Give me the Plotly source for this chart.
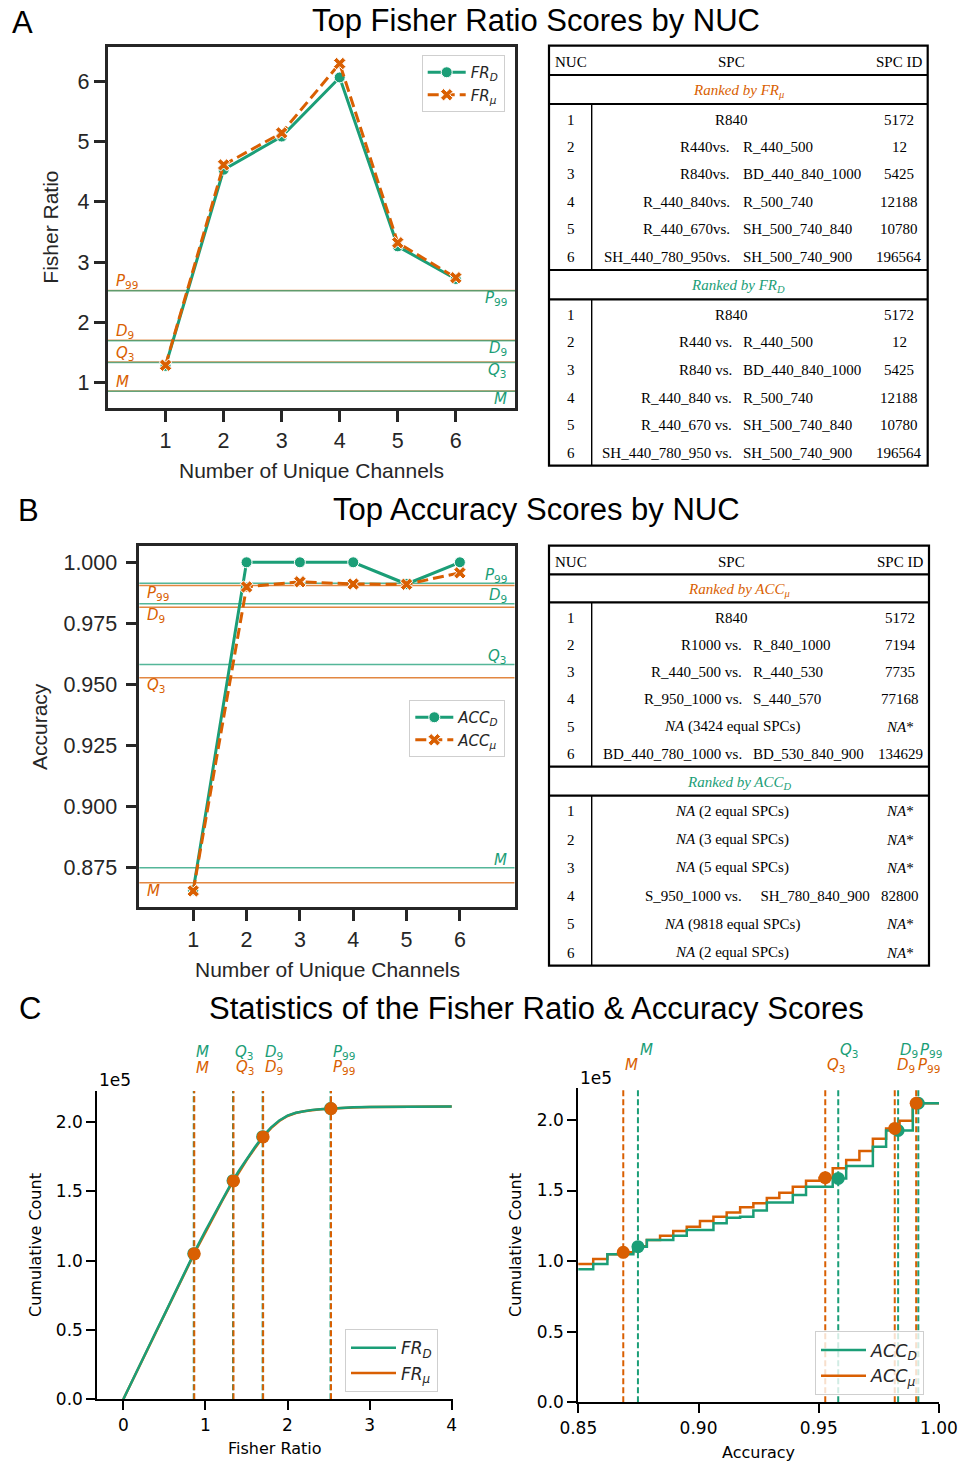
import numpy as np
import plotly.graph_objects as go

W, H = 972, 1461
GREEN, ORANGE = '#1b9e77', '#d95f02'
DARK = '#262626'
SANS = 'Liberation Sans, Arial, sans-serif'
MATH = 'DejaVu Sans'
SERIF = 'Liberation Serif, Times New Roman, serif'

# ---------------- data ----------------
nuc = [1, 2, 3, 4, 5, 6]
fr_d_top = [1.28, 4.53, 5.08, 6.06, 3.26, 2.72]
fr_mu_top = [1.29, 4.61, 5.14, 6.29, 3.32, 2.74]
acc_d_top = [0.8656, 1.000, 1.000, 1.000, 0.9911, 1.000]
acc_mu_top = [0.8653, 0.9899, 0.9920, 0.9911, 0.9910, 0.9957]

stat_labels = ['<i>M</i>', '<i>Q</i><sub>3</sub>', '<i>D</i><sub>9</sub>', '<i>P</i><sub>99</sub>']
fr_d_stats = [0.858, 1.336, 1.697, 2.524]
fr_mu_stats = [0.864, 1.342, 1.703, 2.530]
acc_d_stats = [0.8748, 0.9581, 0.9830, 0.9914]
acc_mu_stats = [0.8687, 0.9527, 0.9816, 0.9905]

# cumulative count of Fisher ratio scores
fr_grid = [0.0, 0.1, 0.2, 0.3, 0.4, 0.5, 0.6, 0.7, 0.8, 0.9, 1.0, 1.1, 1.2, 1.3, 1.4, 1.5,
           1.6, 1.7, 1.8, 1.9, 2.0, 2.1, 2.2, 2.3, 2.4, 2.5, 2.6, 2.8, 3.0, 3.3, 3.6, 4.0]
fr_d_cum = [0, 12500, 25000, 37000, 49000, 61000, 73500, 86000, 98000, 110000, 121500,
            132500, 143500, 154000, 164000, 173000, 181500, 189500, 196000, 201000, 204500,
            206500, 207800, 208600, 209100, 209500, 209900, 210400, 210700, 210900, 211000, 211100]
fr_mu_cum = [0, 12300, 24600, 36500, 48500, 60300, 72800, 85200, 97200, 109200, 120700,
             131700, 142700, 153200, 163200, 172300, 180800, 188900, 195500, 200600, 204200,
             206300, 207600, 208500, 209000, 209400, 209800, 210300, 210700, 210900, 211000, 211100]

# cumulative count of accuracy scores (step edges and levels)
acc_edges = [0.8450, 0.8562, 0.8621, 0.8673, 0.8729, 0.8785, 0.8840, 0.8895, 0.8951, 0.9006,
             0.9062, 0.9117, 0.9173, 0.9228, 0.9284, 0.9336, 0.9392, 0.9447, 0.9503, 0.9558,
             0.9614, 0.9669, 0.9725, 0.9780, 0.9836, 0.9891, 1.0]
acc_d_cum = [94200, 97900, 104800, 104800, 110200, 114900, 114900, 118000, 122000, 122000,
             126800, 130700, 131400, 135800, 141600, 141600, 146800, 152700, 152700, 158600,
             167300, 167300, 181000, 192500, 192500, 211800]
acc_mu_cum = [97900, 101500, 104800, 106200, 110500, 114900, 118000, 121300, 124400, 128400,
              131400, 134500, 138100, 140900, 144700, 148400, 152700, 156900, 159100, 165700,
              171600, 178000, 186700, 194000, 199400, 211800]

# tables
fr_spc_left = ['R840', 'R440', 'R840', 'R_440_840', 'R_440_670', 'SH_440_780_950']
fr_spc_right = [None, 'R_440_500', 'BD_440_840_1000', 'R_500_740', 'SH_500_740_840', 'SH_500_740_900']
fr_ids = ['5172', '12', '5425', '12188', '10780', '196564']

acc_mu_spc_left = ['R840', 'R1000', 'R_440_500', 'R_950_1000', '<i>NA</i> (3424 equal SPCs)', 'BD_440_780_1000']
acc_mu_spc_right = [None, 'R_840_1000', 'R_440_530', 'S_440_570', None, 'BD_530_840_900']
acc_mu_ids = ['5172', '7194', '7735', '77168', '<i>NA</i>*', '134629']
acc_d_spc_left = ['<i>NA</i> (2 equal SPCs)', '<i>NA</i> (3 equal SPCs)', '<i>NA</i> (5 equal SPCs)',
                  'S_950_1000', '<i>NA</i> (9818 equal SPCs)', '<i>NA</i> (2 equal SPCs)']
acc_d_spc_right = [None, None, None, '\u2002SH_780_840_900', None, None]
acc_d_ids = ['<i>NA</i>*', '<i>NA</i>*', '<i>NA</i>*', '82800', '<i>NA</i>*', '<i>NA</i>*']


def X(p):
    return p / W


def Y(p):
    return 1 - p / H


fig = go.Figure()
ann = []
shapes = []


def text(x, y, s, size, family=SANS, color=DARK, xanchor='center', yanchor='middle',
         angle=0, xref='paper', yref='paper', yshift=0):
    ann.append(dict(x=x, y=y, xref=xref, yref=yref, text=s, showarrow=False,
                    font=dict(family=family, size=size, color=color),
                    xanchor=xanchor, yanchor=yanchor, textangle=angle, yshift=yshift))


# ---------------- panel A / B line plots ----------------
def top_series(y_d, y_mu, name, xa, ya, leg):
    fig.add_trace(go.Scatter(
        x=nuc, y=y_d, mode='lines+markers', name='<i>%s</i><sub><i>D</i></sub>' % name,
        line=dict(color=GREEN, width=3),
        marker=dict(symbol='circle', size=11, color=GREEN, line=dict(color='white', width=1)),
        xaxis=xa, yaxis=ya, legend=leg))
    fig.add_trace(go.Scatter(
        x=nuc, y=y_mu, mode='lines+markers', name='<i>%s</i><sub><i>μ</i></sub>' % name,
        line=dict(color=ORANGE, width=3, dash='11px,5px'),
        marker=dict(symbol='x', size=11, color=ORANGE, line=dict(color='white', width=1)),
        xaxis=xa, yaxis=ya, legend=leg))


top_series(fr_d_top, fr_mu_top, 'FR', 'x', 'y', 'legend')
top_series(acc_d_top, acc_mu_top, 'ACC', 'x2', 'y2', 'legend2')

# reference statistic lines
for i, lab in enumerate(stat_labels):
    for val, col in ((fr_mu_stats[i], ORANGE), (fr_d_stats[i], GREEN)):
        shapes.append(dict(type='line', xref='x domain', yref='y', x0=0, x1=1, y0=val, y1=val,
                           line=dict(color=col, width=1.5), opacity=0.65, layer='below'))
    text(X(114), fr_mu_stats[i], lab, 15, MATH, ORANGE, 'left', yref='y', yshift=8.5)
    text(X(509), fr_d_stats[i], lab, 15, MATH, GREEN, 'right', yref='y', yshift=-8)

    for val, col in ((acc_d_stats[i], GREEN), (acc_mu_stats[i], ORANGE)):
        shapes.append(dict(type='line', xref='x2 domain', yref='y2', x0=0, x1=1, y0=val, y1=val,
                           line=dict(color=col, width=1.5), opacity=0.75, layer='below'))
    text(X(145), acc_mu_stats[i], lab, 15, MATH, ORANGE, 'left', yref='y2', yshift=-8)
    text(X(509), acc_d_stats[i], lab, 15, MATH, GREEN, 'right', yref='y2', yshift=8)

# ---------------- panel C ----------------
fig.add_trace(go.Scatter(x=fr_grid, y=fr_mu_cum, mode='lines', name='<i>FR</i><sub><i>μ</i></sub>',
                         line=dict(color=ORANGE, width=2.5), xaxis='x3', yaxis='y3',
                         legend='legend3', legendrank=2))
fig.add_trace(go.Scatter(x=fr_grid, y=fr_d_cum, mode='lines', name='<i>FR</i><sub><i>D</i></sub>',
                         line=dict(color=GREEN, width=2.5), xaxis='x3', yaxis='y3',
                         legend='legend3', legendrank=1))
fig.add_trace(go.Scatter(x=fr_d_stats, y=np.interp(fr_d_stats, fr_grid, fr_d_cum), mode='markers',
                         marker=dict(color=GREEN, size=13), showlegend=False, xaxis='x3', yaxis='y3'))
fig.add_trace(go.Scatter(x=fr_mu_stats, y=np.interp(fr_mu_stats, fr_grid, fr_mu_cum), mode='markers',
                         marker=dict(color=ORANGE, size=13), showlegend=False, xaxis='x3', yaxis='y3'))

acc_d_levels = acc_d_cum + [acc_d_cum[-1]]
acc_mu_levels = acc_mu_cum + [acc_mu_cum[-1]]


def step_value(levels, q):
    idx = np.searchsorted(acc_edges, q, side='right') - 1
    return [levels[i] for i in idx]


fig.add_trace(go.Scatter(x=acc_edges, y=acc_mu_levels, mode='lines', line_shape='hv',
                         name='<i>ACC</i><sub><i>μ</i></sub>', line=dict(color=ORANGE, width=2.5),
                         xaxis='x4', yaxis='y4', legend='legend4', legendrank=2))
fig.add_trace(go.Scatter(x=acc_edges, y=acc_d_levels, mode='lines', line_shape='hv',
                         name='<i>ACC</i><sub><i>D</i></sub>', line=dict(color=GREEN, width=2.5),
                         xaxis='x4', yaxis='y4', legend='legend4', legendrank=1))
fig.add_trace(go.Scatter(x=acc_d_stats, y=step_value(acc_d_levels, acc_d_stats), mode='markers',
                         marker=dict(color=GREEN, size=13), showlegend=False, xaxis='x4', yaxis='y4'))
fig.add_trace(go.Scatter(x=acc_mu_stats, y=step_value(acc_mu_levels, acc_mu_stats), mode='markers',
                         marker=dict(color=ORANGE, size=13), showlegend=False, xaxis='x4', yaxis='y4'))

for i, lab in enumerate(stat_labels):
    for xa, stats, col, ly in (('x3', fr_d_stats, GREEN, 1052.3), ('x3', fr_mu_stats, ORANGE, 1067.7),
                               ('x4', acc_d_stats, GREEN, 1050), ('x4', acc_mu_stats, ORANGE, 1065)):
        shapes.append(dict(type='line', xref=xa, yref='%s domain' % xa.replace('x', 'y'),
                           x0=stats[i], x1=stats[i], y0=0, y1=1,
                           line=dict(color=col, width=2, dash='6px,3px'), layer='below'))
        text(stats[i], Y(ly), lab, 15, MATH, col, 'left', xref=xa)

# ---------------- tables ----------------
def draw_table(left, right, top, head, band1, block1, band2, bottom, titles, blocks,
               vs_x, right_x, id_x, seps):
    lw = 2.2
    shapes.append(dict(type='rect', xref='paper', yref='paper', x0=X(left), x1=X(right),
                       y0=Y(bottom), y1=Y(top), line=dict(color='black', width=lw)))
    for yy in (head, band1, block1, band2):
        shapes.append(dict(type='line', xref='paper', yref='paper', x0=X(left), x1=X(right),
                           y0=Y(yy), y1=Y(yy), line=dict(color='black', width=lw)))
    for a, b in ((band1, block1), (band2, bottom)):
        shapes.append(dict(type='line', xref='paper', yref='paper', x0=X(591.7), x1=X(591.7),
                           y0=Y(a), y1=Y(b), line=dict(color='black', width=1.4)))
    hy = (top + head) / 2 + 1.5
    text(X(571), Y(hy), 'NUC', 15, SERIF, 'black')
    text(X(731.5), Y(hy), 'SPC', 15, SERIF, 'black')
    text(X(id_x), Y(hy), 'SPC ID', 15, SERIF, 'black')
    mid = (left + right) / 2
    for (a, b), (ttl, col) in zip(((head, band1), (block1, band2)), titles):
        text(X(mid), Y((a + b) / 2 + 1.5), ttl, 15, SERIF, col)
    for (a, b), (lefts, rights, ids), sep in zip(((band1, block1), (band2, bottom)), blocks, seps):
        rows = np.linspace(a + 15.5, b - 13, 6)
        for k in range(6):
            ry = Y(rows[k])
            text(X(570.7), ry, str(nuc[k]), 15, SERIF, 'black')
            if rights[k] is None:
                text(X(731.7), ry, lefts[k], 15, SERIF, 'black')
            else:
                text(X(vs_x[sep]), ry, lefts[k] + sep, 15, SERIF, 'black', 'right')
                text(X(right_x), ry, rights[k], 15, SERIF, 'black', 'left')
            text(X(id_x), ry, ids[k], 15, SERIF, 'black')


draw_table(549, 927.7, 45.7, 75, 104, 270, 299.3, 465.7,
           [('<i>Ranked by FR<sub>μ</sub></i>', ORANGE), ('<i>Ranked by FR<sub>D</sub></i>', GREEN)],
           [(fr_spc_left, fr_spc_right, fr_ids), (fr_spc_left, fr_spc_right, fr_ids)],
           {'vs.': 731.7, ' vs.': 734.3}, 741, 899, ['vs.', ' vs.'])
draw_table(549, 929, 545.7, 574.3, 602.3, 766.7, 795.7, 965.7,
           [('<i>Ranked by ACC<sub>μ</sub></i>', ORANGE), ('<i>Ranked by ACC<sub>D</sub></i>', GREEN)],
           [(acc_mu_spc_left, acc_mu_spc_right, acc_mu_ids), (acc_d_spc_left, acc_d_spc_right, acc_d_ids)],
           {' vs.': 744}, 750.7, 900, [' vs.', ' vs.'])

# ---------------- titles and axis labels ----------------
text(X(22.5), Y(22), 'A', 31, SANS, 'black')
text(X(536), Y(20), 'Top Fisher Ratio Scores by NUC', 31, SANS, 'black')
text(X(28), Y(511), 'B', 31, SANS, 'black')
text(X(536), Y(510), 'Top Accuracy Scores by NUC', 31, SANS, 'black')
text(X(30), Y(1008), 'C', 31, SANS, 'black')
text(X(536), Y(1008), 'Statistics of the Fisher Ratio &amp; Accuracy Scores', 31, SANS, 'black')

text(X(311.5), Y(470), 'Number of Unique Channels', 21, SANS, DARK)
text(X(50.7), Y(227), 'Fisher Ratio', 21, SANS, DARK, angle=-90)
text(X(327.5), Y(969), 'Number of Unique Channels', 21, SANS, DARK)
text(X(40), Y(727), 'Accuracy', 21, SANS, DARK, angle=-90)

text(X(275), Y(1448.3), 'Fisher Ratio', 16, MATH, 'black')
text(X(35), Y(1245), 'Cumulative Count', 16, MATH, 'black', angle=-90)
text(X(758.7), Y(1452.7), 'Accuracy', 16, MATH, 'black')
text(X(515), Y(1245), 'Cumulative Count', 16, MATH, 'black', angle=-90)
text(X(97), Y(1080), '1e5', 17, MATH, 'black', 'left')
text(X(578), Y(1077.7), '1e5', 17, MATH, 'black', 'left')

# ---------------- axes ----------------
def boxed(domain, rng, tickvals, ticktext=None, anchor=None, standoff=0):
    return dict(domain=domain, range=rng, tickvals=tickvals, ticktext=ticktext, anchor=anchor,
                ticks='outside', ticklen=11, tickwidth=2.5, tickcolor=DARK, showline=True,
                linewidth=2.5, linecolor=DARK, mirror=True, showgrid=False, zeroline=False,
                tickfont=dict(family=SANS, size=21.5, color=DARK), fixedrange=True,
                automargin=False, ticklabelstandoff=standoff)


def open_axis(domain, rng, tickvals, ticktext=None, anchor=None):
    return dict(domain=domain, range=rng, tickvals=tickvals, ticktext=ticktext, anchor=anchor,
                ticks='outside', ticklen=9, tickwidth=2, tickcolor='black', showline=True,
                linewidth=2, linecolor='black', mirror=False, showgrid=False, zeroline=False,
                tickfont=dict(family=MATH, size=17, color='black'), fixedrange=True,
                automargin=False)


count_ticks = [0, 50000, 100000, 150000, 200000]
count_text = ['0.0', '0.5', '1.0', '1.5', '2.0']
acc_ticks = [0.875, 0.900, 0.925, 0.950, 0.975, 1.000]


def legend_box(x, y, size, itemwidth):
    return dict(x=X(x), y=Y(y), xanchor='left', yanchor='top', bgcolor='rgba(255,255,255,0.8)',
                bordercolor='#cfcfcf', borderwidth=1, font=dict(family=MATH, size=size, color=DARK),
                itemwidth=itemwidth, tracegroupgap=0)


fig.update_layout(
    template='none',
    width=W, height=H, margin=dict(l=0, r=0, t=0, b=0, autoexpand=False),
    paper_bgcolor='white', plot_bgcolor='white', showlegend=True,
    xaxis=boxed([X(107.5), X(515)], [0, 7.02], nuc, anchor='y'),
    yaxis=boxed([Y(408.3), Y(46.7)], [0.576, 6.569], [1, 2, 3, 4, 5, 6], anchor='x'),
    xaxis2=boxed([X(139.3), X(514.5)], [-0.011, 7.024], nuc, anchor='y2'),
    yaxis2=boxed([Y(907.3), Y(545.7)], [0.8586, 1.0068], acc_ticks,
                 ['%.3f' % v for v in acc_ticks], anchor='x2', standoff=4),
    xaxis3=open_axis([X(97.3), X(452.7)], [-0.317, 4.012], [0, 1, 2, 3, 4], anchor='y3'),
    yaxis3=open_axis([Y(1399.3), Y(1091)], [0, 222200], count_ticks, count_text, anchor='x3'),
    xaxis4=open_axis([X(578.3), X(939)], [0.85, 1.0], [0.85, 0.90, 0.95, 1.00],
                     ['0.85', '0.90', '0.95', '1.00'], anchor='y4'),
    yaxis4=open_axis([Y(1402.3), Y(1088.3)], [0, 222400], count_ticks, count_text, anchor='x4'),
    legend=legend_box(421.7, 55, 15, 38),
    legend2=legend_box(409.3, 700, 15, 38),
    legend3=legend_box(345, 1329.3, 17, 45),
    legend4=legend_box(815, 1331, 17.5, 45),
    annotations=ann, shapes=shapes,
)

fig.write_html("out.html")
